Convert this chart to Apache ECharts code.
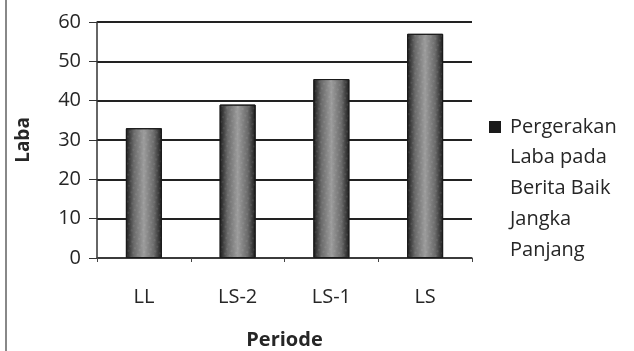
<!DOCTYPE html>
<html><head><meta charset="utf-8">
<script src="https://cdn.jsdelivr.net/npm/echarts@6/dist/echarts.min.js"></script>
<style>html,body{margin:0;padding:0;background:#fff}#c{width:634px;height:351px}</style>
</head><body><div id="c"></div>
<script>
const categories = ['LL', 'LS-2', 'LS-1', 'LS'];
const labaValues = [33, 39, 45.5, 57];
const seriesName = 'Pergerakan';
const legendExtraLines = ['Laba pada', 'Berita Baik', 'Jangka', 'Panjang'];
const yTicks = { min: 0, max: 60, interval: 10 };

const font = '"Open Sans", "Noto Sans", sans-serif';
const ink = '#262626';
const chart = echarts.init(document.getElementById('c'));
chart.setOption({
  backgroundColor: '#fff',
  animation: false,
  textStyle: { fontFamily: font, color: ink },
  grid: { left: 97, right: 162, top: 22, bottom: 93, containLabel: false, outerBoundsMode: 'none' },
  graphic: [
    { type: 'line', shape: { x1: 6, y1: 0, x2: 6, y2: 351 }, style: { stroke: '#888', lineWidth: 2 } },
    { type: 'text', left: 510, top: 142,
      style: { text: legendExtraLines.join('\n'), font: '20px ' + font, fill: ink, lineHeight: 31 } }
  ],
  legend: {
    left: 489, top: 117, orient: 'vertical', padding: 0,
    icon: 'rect', itemWidth: 12, itemHeight: 12, itemGap: 0,
    data: [seriesName],
    itemStyle: { color: '#1a1a1a', borderWidth: 0, decal: 'none' },
    formatter: '{p|{name}}',
    textStyle: { fontFamily: font, fontSize: 20, color: ink,
      rich: { p: { fontFamily: font, fontSize: 20, lineHeight: 22, color: ink, padding: [0, 0, 0, 4] } } }
  },
  xAxis: {
    type: 'category', data: categories,
    name: 'Periode', nameLocation: 'middle', nameGap: 72,
    nameTextStyle: { fontFamily: font, fontSize: 20, fontWeight: 'bold', color: ink },
    axisLine: { lineStyle: { color: '#444', width: 1.5 } },
    axisTick: { show: true, length: 4, lineStyle: { color: '#444' } },
    axisLabel: { margin: 29, fontSize: 20, color: ink, fontFamily: font }
  },
  yAxis: {
    type: 'value', min: yTicks.min, max: yTicks.max, interval: yTicks.interval,
    name: 'Laba', nameLocation: 'middle', nameGap: 64,
    nameTextStyle: { fontFamily: font, fontSize: 19, fontWeight: 'bold', color: ink },
    axisLine: { show: true, lineStyle: { color: '#333', width: 1.5 } },
    axisTick: { show: true, length: 8, lineStyle: { color: '#333' } },
    axisLabel: { margin: 16, fontSize: 20, color: ink, fontFamily: font },
    splitLine: { lineStyle: { color: '#222', width: 2 } }
  },
  series: [{
    name: seriesName, type: 'bar', data: labaValues, barWidth: 36,
    itemStyle: {
      borderColor: '#1a1a1a', borderWidth: 1,
      color: new echarts.graphic.LinearGradient(0, 0, 1, 0, [
        { offset: 0, color: '#1a1a1a' }, { offset: 0.22, color: '#6a6a6a' },
        { offset: 0.5, color: '#9c9c9c' }, { offset: 0.78, color: '#6a6a6a' },
        { offset: 1, color: '#1a1a1a' }
      ]),
      decal: { symbol: 'rect', symbolSize: 0.6, color: 'rgba(255,255,255,0.25)', dashArrayX: [2, 3], dashArrayY: [2, 3], rotation: 0.4 }
    }
  }]
});
</script></body></html>
